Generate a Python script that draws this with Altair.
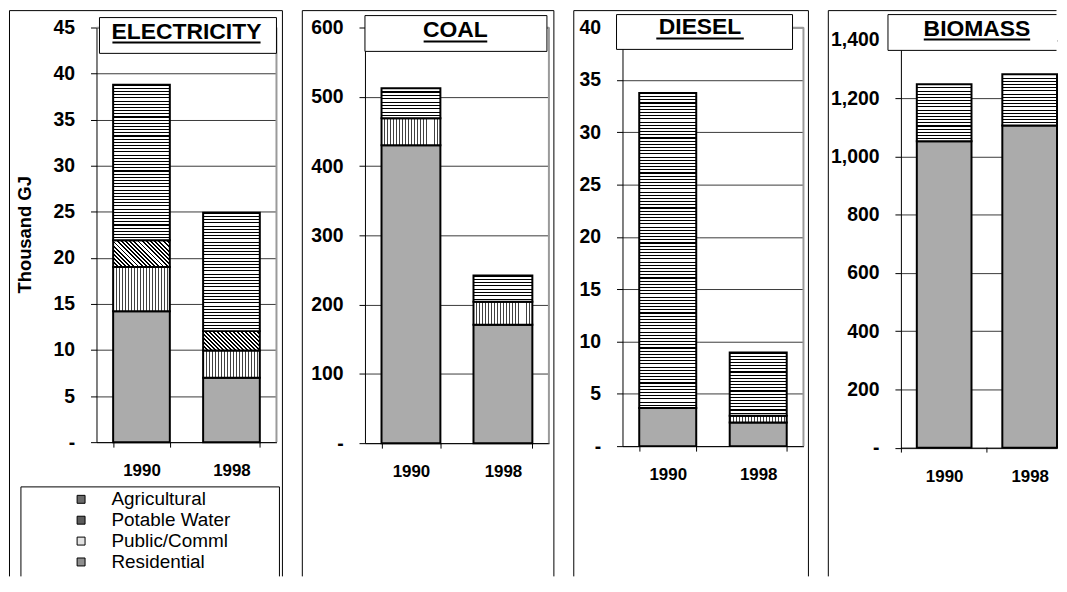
import altair as alt
import pandas as pd

# ---------------- data ----------------
years = ["1990", "1998"]
categories = ["Agricultural", "Potable Water", "Public/Comml", "Residential"]
stack_rank = {"Residential": 0, "Public/Comml": 1, "Potable Water": 2, "Agricultural": 3}

electricity_res = [14.2, 7.0]
electricity_pub = [4.8, 2.95]
electricity_pot = [2.9, 2.1]
electricity_agr = [16.9, 12.85]

coal_res = [430, 171]
coal_pub = [39, 33]
coal_pot = [0, 0]
coal_agr = [43.5, 38]

diesel_res = [3.65, 2.25]
diesel_pub = [0, 0.65]
diesel_pot = [0, 0]
diesel_agr = [30.1, 6.05]

biomass_res = [1052, 1106]
biomass_pub = [0, 0]
biomass_pot = [0, 0]
biomass_agr = [196, 176]

panel_titles = ["ELECTRICITY", "COAL", "DIESEL", "BIOMASS"]
y_max = [45, 600, 40, 1400]
y_step = [5, 100, 5, 200]

# ---------------- style ----------------
FONT = "Liberation Sans"
legend_fills = ["#6a6a6a", "#5c5c5c", "#e2e2e2", "#8e8e8e"]
RES_FILL = "#ababab"
one = pd.DataFrame({"k": [0]})

# layout per panel (pixels relative to each plot origin)
layouts = [
    dict(w=181, h=417, dom=45, pi=0.37, po=0.185, align=0.5, box=(-87.5, 187),
         tbox=(3, 181, -10, 26), tx=90.5, ty=12, ul=(16, 165, 15), right=True),
    dict(w=185, h=418, dom=600, pi=0.36, po=0.18, align=0.5, box=(-63, 190),
         tbox=(0, 183, -12, 24), tx=91, ty=9.5, ul=(59, 123, 14), right=True),
    dict(w=182, h=421, dom=40, pi=0.37, po=0.185, align=0.5, box=(-49, 187),
         tbox=(-6, 171, -13, 22), tx=78, ty=6.5, ul=(34, 122, 11), right=True),
    dict(w=157, h=422.5, dom=1400 * 422.5 / 410, pi=0.3605, po=0.093, align=1.0,
         box=(-73, 156.5), tbox=(-13, 157, -13, 23), tx=76.5, ty=8.5, ul=(23, 130, 12),
         right=False),
]
BOX_TOP, BOX_BOTTOM = -17, 552


def stripes(n, frac, dark):
    stops = []
    for k in range(n):
        a, b, c = k / n, (k + frac) / n, (k + 1) / n
        stops += [{"offset": a, "color": dark}, {"offset": b, "color": dark},
                  {"offset": b, "color": "#ffffff"}, {"offset": c, "color": "#ffffff"}]
    return stops


def grad_horizontal_lines(hpx):
    n = max(2, int(round(hpx / 3.2)))
    return {"gradient": "linear", "x1": 0, "y1": 0, "x2": 0, "y2": 1,
            "stops": stripes(n, 0.34, "#000000")}


def grad_vertical_lines(wpx):
    n = max(2, int(round(wpx / 3.0)))
    return {"gradient": "linear", "x1": 0, "y1": 0, "x2": 1, "y2": 0,
            "stops": stripes(n, 0.3, "#404040")}


def grad_diagonal(wpx, hpx):
    r = hpx / wpx
    s = (1 + r) / (1 + r * r)
    n = max(2, int(round((wpx + hpx) / (2 ** 0.5) / 2.9)))
    return {"gradient": "linear", "x1": 0, "y1": 1, "x2": s, "y2": 1 - s * r,
            "stops": stripes(n, 0.45, "#000000")}


def build_df(res, pub, pot, agr):
    rows = []
    for i, yr in enumerate(years):
        for cat, vals in [("Residential", res), ("Public/Comml", pub),
                          ("Potable Water", pot), ("Agricultural", agr)]:
            if vals[i] > 0:
                rows.append({"Year": yr, "Category": cat, "Value": vals[i],
                             "rank": stack_rank[cat], "key": cat + "|" + yr})
    return pd.DataFrame(rows)


def hrule(x1, x2, y, color="black", width=1):
    return alt.Chart(one).mark_rule(color=color, strokeWidth=width).encode(
        x=alt.value(x1), x2=alt.value(x2), y=alt.value(y))


def vrule(x, y1, y2, color="black", width=1):
    return alt.Chart(one).mark_rule(color=color, strokeWidth=width).encode(
        x=alt.value(x), y=alt.value(y1), y2=alt.value(y2))


def panel(idx, res, pub, pot, agr):
    L = layouts[idx]
    ymax, ystep = y_max[idx], y_step[idx]
    df = build_df(res, pub, pot, agr)
    first = idx == 0
    last = idx == 3
    w, h = L["w"], L["h"]
    space = 2 - L["pi"] + 2 * L["po"]
    step = w / space
    bw = step * (1 - L["pi"])
    pxu = h / L["dom"]

    # pattern fills per segment
    conds = []
    for _, r in df.iterrows():
        hpx = r["Value"] * pxu
        if r["Category"] == "Agricultural":
            g = grad_horizontal_lines(hpx)
        elif r["Category"] == "Public/Comml":
            g = grad_vertical_lines(bw)
        elif r["Category"] == "Potable Water":
            g = grad_diagonal(bw, hpx)
        else:
            continue
        conds.append({"test": "datum.key === '%s'" % r["key"], "value": g})

    bx0, bx1 = L["box"]
    layers = [hrule(bx0, bx1, BOX_TOP), vrule(bx0, BOX_TOP, BOX_BOTTOM)]
    if L["right"]:
        layers.append(vrule(bx1, BOX_TOP, BOX_BOTTOM))

    # plot-area frame (top / right), grey
    layers.append(hrule(0, w if L["right"] else w - 0.5, 0, "#9a9a9a", 1.5))
    if L["right"]:
        layers.append(vrule(w, 0, h, "#9a9a9a", 2))

    yaxis = alt.Axis(
        values=list(range(0, ymax + 1, ystep)),
        labelExpr="datum.value == 0 ? '-' : format(datum.value, ',')",
        title="Thousand GJ" if first else None, grid=True, gridColor="#3a3a3a", gridWidth=1,
        domainColor="black", tickColor="black", tickSize=6, labelPadding=16,
        labelFont=FONT, labelFontSize=19.5, labelFontWeight="bold", labelColor="black",
        titleFont=FONT, titleFontSize=18.5, titleFontWeight="bold", titleColor="black",
        titleX=-72, titleY=208, titleBaseline="middle", titleAngle=270,
        titleAlign="center")
    xaxis = alt.Axis(
        title=None, labelAngle=0, tickBand="extent", domainColor="black",
        ticks=not last, tickColor="black", tickSize=5, labelPadding=21 if last else 16,
        labelFont=FONT, labelFontSize=17, labelFontWeight="bold", labelColor="black",
        grid=False)

    xscale = alt.Scale(domain=years, paddingInner=L["pi"], paddingOuter=L["po"],
                       align=L["align"])
    xenc = alt.X("Year:N", sort=years, scale=xscale, axis=xaxis)

    if first:
        layers += [hrule(-76, 184, 462), vrule(-76, 462, BOX_BOTTOM), vrule(184, 462, BOX_BOTTOM)]
        legend_layer = alt.Chart(df).mark_square(opacity=0, size=1).encode(
            x=alt.value(0), y=alt.value(0),
            fill=alt.Fill("Category:N",
                          scale=alt.Scale(domain=categories, range=legend_fills),
                          legend=alt.Legend(
                              title=None, orient="none", legendX=-25, legendY=465,
                              padding=0, symbolType="square", symbolSize=64,
                              symbolOpacity=1, symbolStrokeColor="black",
                              symbolStrokeWidth=1, labelFont=FONT, labelFontSize=19,
                              labelColor="black", labelOffset=21, rowPadding=1)))
        layers.append(legend_layer)

    if last:
        # x-axis ticks between categories (axis ticks would overflow the right edge)
        tick_df = pd.DataFrame({"Year": years})
        layers.append(alt.Chart(tick_df).mark_rule(color="black", strokeWidth=1,
                                                   xOffset=-L["pi"] * step / 2).encode(
            x=alt.X("Year:N", sort=years, scale=xscale, axis=xaxis, bandPosition=0),
            y=alt.value(h), y2=alt.value(h + 5)))

    bars = alt.Chart(df).mark_bar(stroke="black", strokeWidth=2).encode(
        x=xenc,
        y=alt.Y("Value:Q", stack="zero",
                scale=alt.Scale(domain=[0, L["dom"]], nice=False, zero=True), axis=yaxis),
        fill=alt.FillValue(RES_FILL, condition=conds),
        order=alt.Order("rank:Q"),
    )
    layers.append(bars)

    tb = L["tbox"]
    if L["right"]:
        layers.append(alt.Chart(one).mark_rect(fill="white", stroke="black", strokeWidth=1).encode(
            x=alt.value(tb[0]), x2=alt.value(tb[1]), y=alt.value(tb[2]), y2=alt.value(tb[3])))
    else:
        layers.append(alt.Chart(one).mark_rect(fill="white").encode(
            x=alt.value(tb[0]), x2=alt.value(tb[1]), y=alt.value(tb[2]), y2=alt.value(tb[3])))
        layers += [hrule(tb[0], tb[1] - 0.5, tb[2]), hrule(tb[0], tb[1] - 0.5, tb[3]),
                   vrule(tb[0], tb[2], tb[3])]
    layers.append(alt.Chart(pd.DataFrame({"t": [panel_titles[idx]]})).mark_text(
        font=FONT, fontSize=23, fontWeight="bold", color="black",
        align="center", baseline="alphabetic").encode(
        x=alt.value(L["tx"]), y=alt.value(L["ty"]), text="t:N"))
    ul = L["ul"]
    layers.append(hrule(ul[0], ul[1], ul[2], "black", 2))

    return alt.layer(*layers).properties(width=w, height=h)


p1 = panel(0, electricity_res, electricity_pub, electricity_pot, electricity_agr)
p2 = panel(1, coal_res, coal_pub, coal_pot, coal_agr)
p3 = panel(2, diesel_res, diesel_pub, diesel_pot, diesel_agr)
p4 = panel(3, biomass_res, biomass_pub, biomass_pot, biomass_agr)

chart = alt.hconcat(p1, p2, p3, p4, spacing=18, bounds="full").resolve_scale(
    fill="independent").properties(
    padding={"left": 0, "top": 0, "right": 0, "bottom": 0},
    background="white",
).configure_view(stroke="transparent")

chart.save("out.html", embed_options={"renderer": "svg", "actions": False})
